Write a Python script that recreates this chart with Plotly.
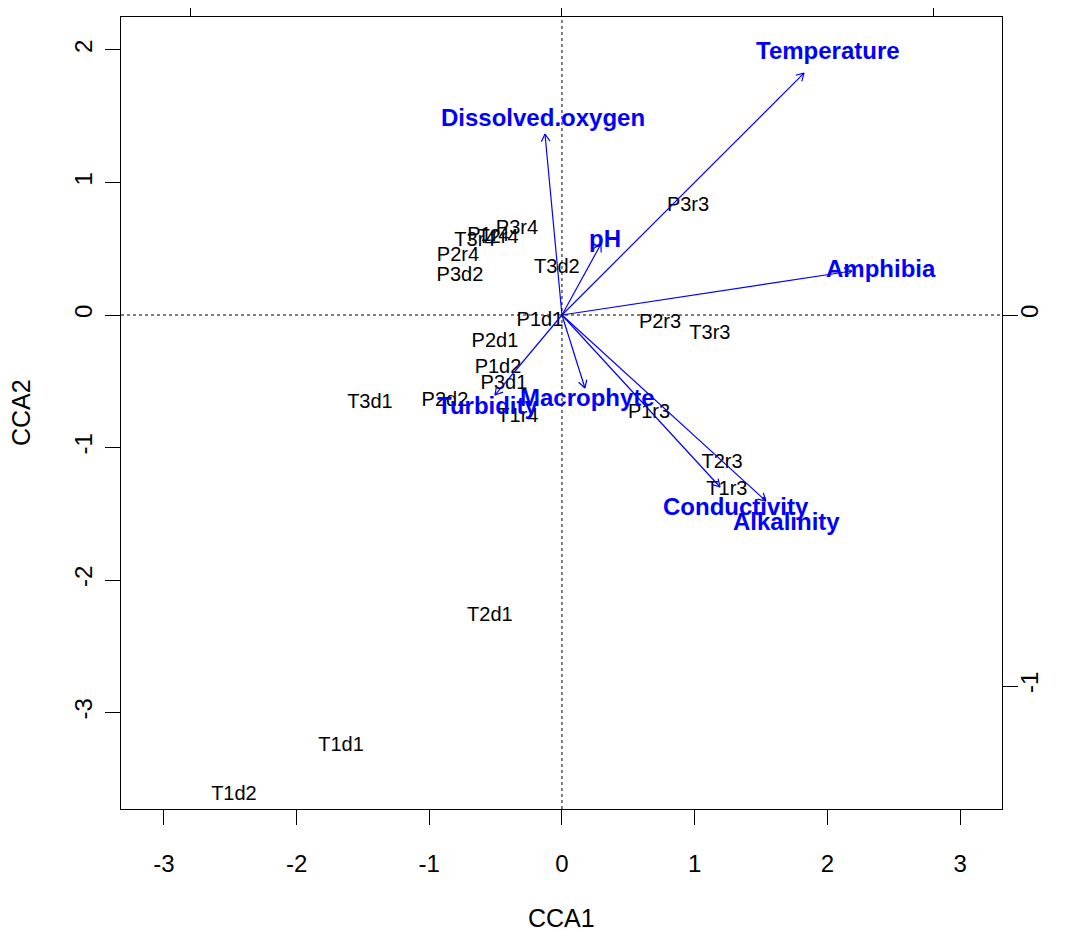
import numpy as np
import plotly.graph_objects as go

# ---- data ----
site_names = ["P3r3", "P3r4", "P1r4", "T2r4", "T3r4", "P2r4", "P3d2", "T3d2",
              "P1d1", "P2d1", "P1d2", "P3d1", "T3d1", "P2d2", "T1r4", "P2r3",
              "T3r3", "P1r3", "T2r3", "T1r3", "T2d1", "T1d1", "T1d2"]
site_cca1 = [0.95, -0.339, -0.555, -0.482, -0.656, -0.784, -0.769, -0.038,
             -0.166, -0.505, -0.482, -0.437, -1.447, -0.882, -0.332, 0.739,
             1.115, 0.656, 1.206, 1.243, -0.543, -1.665, -2.472]
site_cca2 = [0.823, 0.649, 0.595, 0.581, 0.558, 0.445, 0.294, 0.355,
             -0.045, -0.204, -0.40, -0.521, -0.664, -0.649, -0.770, -0.060,
             -0.143, -0.740, -1.117, -1.321, -2.272, -3.253, -3.623]

env_names = ["Temperature", "Dissolved.oxygen", "pH", "Amphibia",
             "Macrophyte", "Turbidity", "Conductivity", "Alkalinity"]
env_cca1 = [1.824, -0.128, 0.294, 2.185, 0.173, -0.505, 1.191, 1.537]
env_cca2 = [1.826, 1.366, 0.536, 0.332, -0.551, -0.604, -1.298, -1.404]

x_ticks = [-3, -2, -1, 0, 1, 2, 3]
y_ticks = [-3, -2, -1, 0, 1, 2]
top_ticks = [-1, 0, 1]
right_ticks = [-1, 0]

x_range = [-3.323, 3.316]
y_range = [-3.728, 2.249]
sec_scale = 2.8          # ratio between primary and secondary axis units
label_mult = 1.1         # biplot labels placed beyond arrow tips
head_len = 0.065         # arrow head length in data units
head_ang = np.pi / 6

BLUE = "#0000FF"
FONT = "Liberation Sans, Arial, Helvetica, sans-serif"

fig = go.Figure()

# sites
fig.add_trace(go.Scatter(
    x=site_cca1, y=site_cca2, mode="text", text=site_names,
    textposition="middle center",
    textfont=dict(family=FONT, size=20, color="black"),
    hoverinfo="text", showlegend=False))

# arrows (shaft + open head) built from the biplot scores
ax_, ay_ = [], []
for bx, by in zip(env_cca1, env_cca2):
    th = np.arctan2(by, bx)
    ax_ += [0, bx, None]
    ay_ += [0, by, None]
    for s in (1, -1):
        a = th + np.pi + s * head_ang
        ax_ += [bx, bx + head_len * np.cos(a), None]
        ay_ += [by, by + head_len * np.sin(a), None]
fig.add_trace(go.Scatter(x=ax_, y=ay_, mode="lines",
                         line=dict(color=BLUE, width=1.2),
                         hoverinfo="skip", showlegend=False))

# invisible trace on the secondary axes so they render
fig.add_trace(go.Scatter(x=[0], y=[0], xaxis="x2", yaxis="y2", mode="markers",
                         marker=dict(opacity=0), hoverinfo="skip", showlegend=False))

# dotted zero lines
fig.add_shape(type="line", xref="x", yref="paper", x0=0, x1=0, y0=0, y1=1,
              line=dict(color="black", width=1, dash="dot"))
fig.add_shape(type="line", xref="paper", yref="y", x0=0, x1=1, y0=0, y1=0,
              line=dict(color="black", width=1, dash="dot"))

# biplot labels (placed beyond the arrow tips)
annotations = []
for name, bx, by in zip(env_names, env_cca1, env_cca2):
    annotations.append(dict(
        text=name, x=bx * label_mult, y=by * label_mult, xref="x", yref="y",
        xanchor="center", yanchor="middle", yshift=-2, showarrow=False,
        font=dict(family=FONT, size=24, color=BLUE, weight="bold")))

annotations += [
    dict(text="CCA1", xref="paper", yref="paper", x=0.5, y=0,
         yanchor="middle", yshift=-109, showarrow=False,
         font=dict(family=FONT, size=25, color="black")),
    dict(text="CCA2", xref="paper", yref="paper", x=0, y=0.5,
         xanchor="center", xshift=-100, textangle=-90, showarrow=False,
         font=dict(family=FONT, size=25, color="black")),
]

axis_common = dict(showgrid=False, zeroline=False, ticks="outside", ticklen=15,
                   tickwidth=1, tickcolor="black", automargin=False,
                   tickfont=dict(family=FONT, size=24, color="black"))

# the page body has an 8px margin; the figure is sized to fill the rest
fig.update_layout(
    width=1061, height=932,
    margin=dict(l=113, r=67, t=9, b=131, autoexpand=False),
    paper_bgcolor="white", plot_bgcolor="white",
    xaxis=dict(range=x_range, tickvals=x_ticks, ticktext=[str(t) for t in x_ticks],
               showline=True, linecolor="black", linewidth=1, mirror=True,
               ticklabelstandoff=18, **axis_common),
    yaxis=dict(range=y_range, tickvals=y_ticks, ticktext=[str(t) for t in y_ticks],
               showline=True, linecolor="black", linewidth=1, mirror=True,
               tickangle=-90, ticklabelstandoff=3, **axis_common),
    xaxis2=dict(range=[x_range[0] / sec_scale, x_range[1] / sec_scale],
                overlaying="x", side="top", anchor="y", tickvals=top_ticks,
                showticklabels=False, showline=False, **axis_common),
    yaxis2=dict(range=[y_range[0] / sec_scale, y_range[1] / sec_scale],
                overlaying="y", side="right", anchor="x", tickvals=right_ticks,
                ticktext=[str(t) for t in right_ticks], tickangle=-90,
                ticklabelstandoff=-9, showline=False, **axis_common),
    annotations=annotations,
)

fig.write_html("out.html")
